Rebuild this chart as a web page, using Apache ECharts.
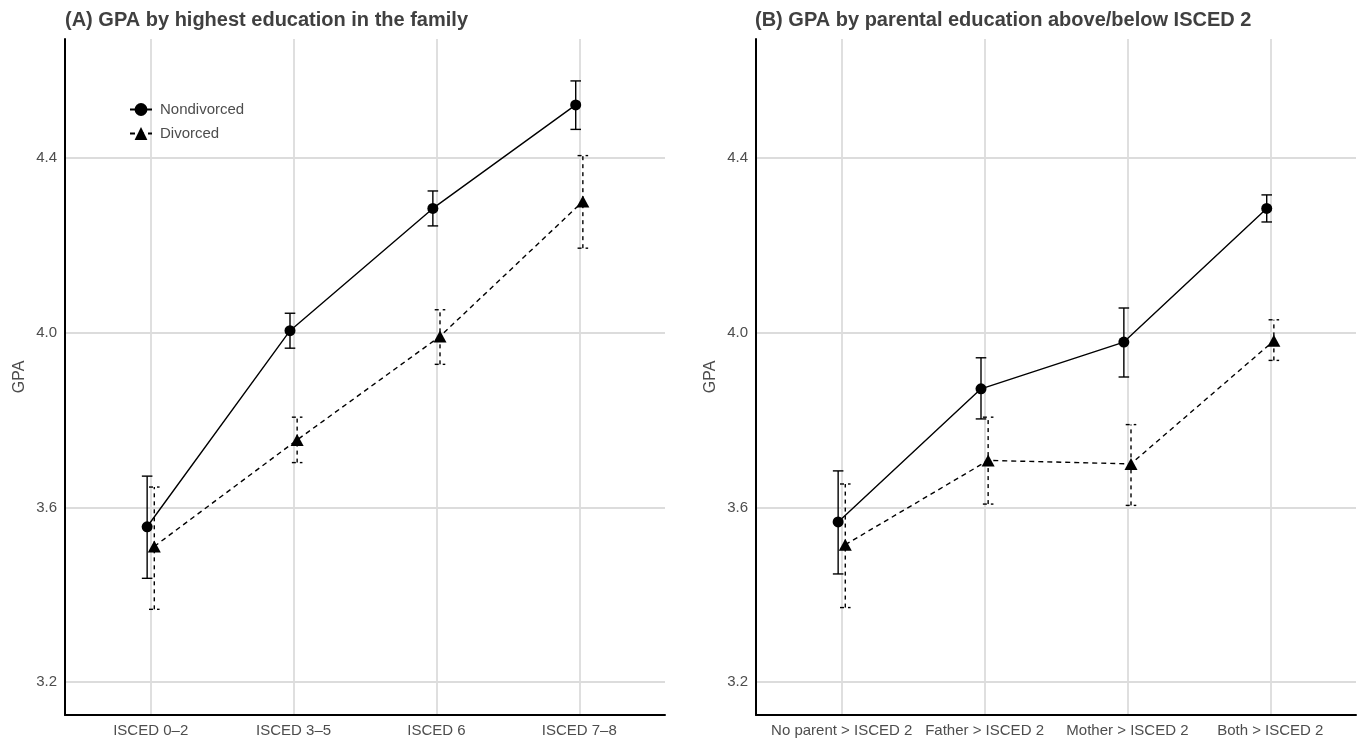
<!DOCTYPE html>
<html>
<head>
<meta charset="utf-8">
<script src="https://cdn.jsdelivr.net/npm/echarts@6/dist/echarts.min.js"></script>
<style>
  html, body { margin: 0; padding: 0; background: #ffffff; }
  #chart { width: 1361px; height: 738px; }
</style>
</head>
<body>
<div id="chart"></div>
<script>
// Panel A: GPA by highest education in the family
const categoriesA = ['ISCED 0–2', 'ISCED 3–5', 'ISCED 6', 'ISCED 7–8'];
const nondivA    = [3.556, 4.005, 4.285, 4.522];
const nondivALow = [3.438, 3.965, 4.245, 4.466];
const nondivAHigh= [3.672, 4.045, 4.325, 4.577];
const divA       = [3.511, 3.755, 3.992, 4.301];
const divALow    = [3.367, 3.703, 3.928, 4.194];
const divAHigh   = [3.647, 3.807, 4.053, 4.406];

// Panel B: GPA by parental education above/below ISCED 2
const categoriesB = ['No parent > ISCED 2', 'Father > ISCED 2', 'Mother > ISCED 2', 'Both > ISCED 2'];
const nondivB    = [3.567, 3.872, 3.979, 4.285];
const nondivBLow = [3.448, 3.803, 3.899, 4.254];
const nondivBHigh= [3.684, 3.943, 4.057, 4.316];
const divB       = [3.515, 3.708, 3.700, 3.982];
const divBLow    = [3.371, 3.608, 3.605, 3.937];
const divBHigh   = [3.654, 3.807, 3.790, 4.030];

const yTicks = [3.2, 3.6, 4.0, 4.4];
const titles = ['(A) GPA by highest education in the family',
                '(B) GPA by parental education above/below ISCED 2'];

const FONT = '"Liberation Sans", Arial, Helvetica, sans-serif';
const DODGE = 0.025;     // horizontal offset between the two groups
const CAP = 0.037;       // half width of error-bar caps (x units)

function points(vals, shift) {
  return vals.map((v, i) => [i + shift, v]);
}
function bars(low, high, shift) {
  return low.map((lo, i) => [i + shift, lo, high[i]]);
}

function errorRender(dashed) {
  return function (params, api) {
    const x = api.value(0), lo = api.value(1), hi = api.value(2);
    const pLo = api.coord([x, lo]);
    const pHi = api.coord([x, hi]);
    const cL = api.coord([x - CAP, lo])[0];
    const cR = api.coord([x + CAP, lo])[0];
    const style = { stroke: '#000', lineWidth: 1.4, lineDash: dashed ? [4, 4] : null };
    return {
      type: 'group',
      children: [
        { type: 'line', shape: { x1: pLo[0], y1: pLo[1], x2: pHi[0], y2: pHi[1] }, style },
        { type: 'line', shape: { x1: cL, y1: pHi[1], x2: cR, y2: pHi[1] }, style },
        { type: 'line', shape: { x1: cL, y1: pLo[1], x2: cR, y2: pLo[1] }, style }
      ]
    };
  };
}

function xAxis(gridIndex, cats) {
  return {
    type: 'value', gridIndex, min: -0.6, max: 3.6,
    axisLine: { show: true, onZero: false, lineStyle: { color: '#000', width: 2 } },
    axisTick: { show: false, customValues: [0, 1, 2, 3] },
    axisLabel: {
      customValues: [0, 1, 2, 3], margin: 8,
      formatter: v => cats[Math.round(v)] || '',
      color: '#4d4d4d', fontSize: 15, fontFamily: FONT
    },
    splitLine: { show: true, lineStyle: { color: '#dcdcdc', width: 1.8 } }
  };
}
function yAxis(gridIndex) {
  return {
    type: 'value', gridIndex, min: 3.125, max: 4.673,
    name: 'GPA', nameLocation: 'middle', nameGap: 37, nameRotate: 90,
    nameTextStyle: { color: '#4d4d4d', fontSize: 16, fontFamily: FONT },
    axisLine: { show: true, onZero: false, lineStyle: { color: '#000', width: 2 } },
    axisTick: { show: false, customValues: yTicks },
    axisLabel: {
      customValues: yTicks, margin: 8,
      formatter: v => v.toFixed(1),
      color: '#4d4d4d', fontSize: 15, fontFamily: FONT
    },
    splitLine: { show: true, lineStyle: { color: '#dcdcdc', width: 1.8 } }
  };
}

function panelSeries(idx, nd, ndLo, ndHi, dv, dvLo, dvHi) {
  return [
    {
      name: 'Nondivorced', type: 'line', xAxisIndex: idx, yAxisIndex: idx,
      data: points(nd, -DODGE), symbol: 'circle', symbolSize: 11,
      lineStyle: { color: '#000', width: 1.4, type: 'solid' },
      itemStyle: { color: '#000' }, z: 4, animation: false
    },
    {
      name: 'Divorced', type: 'line', xAxisIndex: idx, yAxisIndex: idx,
      data: points(dv, DODGE), symbol: 'triangle', symbolSize: [13, 12],
      lineStyle: { color: '#000', width: 1.4, type: [5, 4] },
      itemStyle: { color: '#000' }, z: 4, animation: false
    },
    {
      type: 'custom', xAxisIndex: idx, yAxisIndex: idx,
      data: bars(ndLo, ndHi, -DODGE), encode: { x: 0, y: [1, 2] },
      renderItem: errorRender(false), z: 3, silent: true, animation: false
    },
    {
      type: 'custom', xAxisIndex: idx, yAxisIndex: idx,
      data: bars(dvLo, dvHi, DODGE), encode: { x: 0, y: [1, 2] },
      renderItem: errorRender(true), z: 3, silent: true, animation: false
    }
  ];
}

const chart = echarts.init(document.getElementById('chart'), null, { renderer: 'canvas' });
chart.setOption({
  backgroundColor: '#ffffff',
  animation: false,
  title: [
    { text: titles[0], left: 65, top: 10, padding: 0,
      textStyle: { fontFamily: FONT, fontSize: 20, fontWeight: 'bold', color: '#404040' } },
    { text: titles[1], left: 755, top: 10, padding: 0,
      textStyle: { fontFamily: FONT, fontSize: 20, fontWeight: 'bold', color: '#404040' } }
  ],
  legend: {
    data: ['Nondivorced', 'Divorced'], orient: 'vertical',
    left: 129, top: 102, itemWidth: 22, itemHeight: 16, itemGap: 9, padding: 0,
    textStyle: { fontFamily: FONT, fontSize: 15, color: '#4d4d4d', padding: [0, 0, 0, 3] },
    selectedMode: false
  },
  grid: [
    { left: 65, right: 696, top: 39, bottom: 22 },
    { left: 756, right: 5, top: 39, bottom: 22 }
  ],
  xAxis: [xAxis(0, categoriesA), xAxis(1, categoriesB)],
  yAxis: [yAxis(0), yAxis(1)],
  series: [
    ...panelSeries(0, nondivA, nondivALow, nondivAHigh, divA, divALow, divAHigh),
    ...panelSeries(1, nondivB, nondivBLow, nondivBHigh, divB, divBLow, divBHigh)
  ]
});
</script>
</body>
</html>
